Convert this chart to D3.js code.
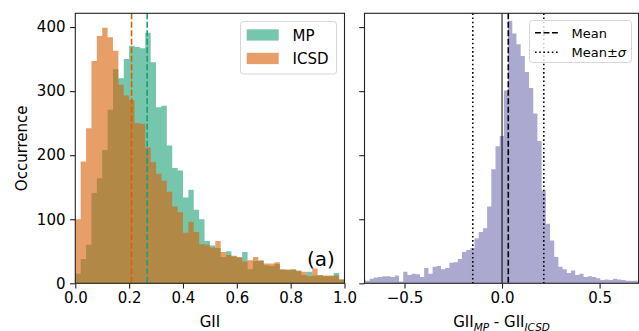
<!DOCTYPE html>
<html>
<head>
<meta charset="utf-8">
<script src="https://cdn.jsdelivr.net/npm/d3@7"></script>
<style>
  html, body { margin: 0; padding: 0; background: #fff; }
  svg { display: block; font-family: "DejaVu Sans", sans-serif; }
</style>
</head>
<body>
<svg id="chart" width="639" height="331"></svg>
<script>
// GII histograms: bin width 0.02 from 0 to 1
const giiBinWidth = 0.02;
const mpCounts = [15, 38, 60, 141, 164, 208, 271, 334, 320, 350,
                  371, 369, 367, 391, 345, 275, 277, 215, 180, 176,
                  134, 146, 115, 100, 66, 59, 55, 41, 50, 42,
                  40, 49, 22, 35, 36, 28, 27, 30, 21, 21,
                  22, 19, 13, 18, 12, 12, 11, 11, 16, 6];
const icsdCounts = [100, 190, 242, 347, 386, 399, 384, 363, 310, 293,
                    286, 250, 249, 212, 189, 171, 160, 143, 120, 111,
                    79, 96, 80, 61, 60, 56, 66, 49, 44, 43,
                    41, 34, 36, 41, 35, 31, 31, 33, 22, 21,
                    21, 20, 18, 11, 23, 13, 12, 12, 12, 6];
const meanMP = 0.267;
const meanICSD = 0.209;

// Difference histogram GII_MP - GII_ICSD
const diffBinStart = -0.7215;
const diffBinWidth = 0.0215;
const diffCounts = [6, 4, 7, 9, 10, 11, 11, 10, 12, 3,
                    18, 13, 15, 14, 10, 24, 15, 26, 27, 22,
                    24, 32, 33, 38, 49, 52, 55, 70, 80, 86,
                    120, 178, 214, 230, 301, 410, 390, 373, 355, 330,
                    305, 265, 222, 145, 93, 67, 41, 26, 22, 16,
                    20, 13, 15, 10, 11, 10, 8, 5, 6, 5,
                    7, 6, 5, 4, 4, 4, 3];
const diffMean = 0.032;
const diffStd = 0.182;

// Axis ticks
const giiTicks = [0, 0.2, 0.4, 0.6, 0.8, 1.0];
const diffTicks = [-0.5, 0, 0.5];
const countTicks = [0, 100, 200, 300, 400];

const colMP = "#1b9e77", colICSD = "#d95f02", colDiff = "#7570b3";
const barAlpha = 0.6;
const font = 15;

const svg = d3.select("#chart");

const plotTop = 13.3, plotBottom = 283.3;
const y = d3.scaleLinear().domain([0, 421.5]).range([plotBottom, plotTop]);
const xL = d3.scaleLinear().domain([0, 1]).range([75.3, 344.5]);
const xR = d3.scaleLinear().domain([-0.705, 0.70]).range([364.5, 638.6]);

svg.append("defs").append("clipPath").attr("id", "clipR")
  .append("rect").attr("x", xR.range()[0]).attr("y", plotTop)
  .attr("width", xR.range()[1] - xR.range()[0]).attr("height", plotBottom - plotTop);

// step-shaped filled histogram built from bin edges and counts
function histPath(x, start, width, counts) {
  const pts = counts.map((c, i) => [start + i * width, c]);
  pts.push([start + counts.length * width, counts[counts.length - 1]]);
  return d3.area()
    .x(d => x(d[0]))
    .y0(y(0))
    .y1(d => y(d[1]))
    .curve(d3.curveStepAfter)(pts);
}

// ---------- left panel ----------
const gL = svg.append("g");
gL.append("path").attr("d", histPath(xL, 0, giiBinWidth, mpCounts))
  .attr("fill", colMP).attr("fill-opacity", barAlpha);
gL.append("path").attr("d", histPath(xL, 0, giiBinWidth, icsdCounts))
  .attr("fill", colICSD).attr("fill-opacity", barAlpha);

[[meanICSD, colICSD], [meanMP, colMP]].forEach(([m, c]) => {
  gL.append("line")
    .attr("x1", xL(m)).attr("x2", xL(m)).attr("y1", plotTop).attr("y2", plotBottom)
    .attr("stroke", c).attr("stroke-width", 1.6).attr("stroke-dasharray", "5.9,2.6");
});

function frame(g, x) {
  const [x0, x1] = x.range();
  g.append("rect").attr("x", x0).attr("y", plotTop)
    .attr("width", x1 - x0).attr("height", plotBottom - plotTop)
    .attr("fill", "none").attr("stroke", "#222").attr("stroke-width", 1.1);
}

function axes(g, x, xticks, xfmt, ylabels) {
  const xa = g.append("g").attr("transform", `translate(0,${plotBottom})`)
    .call(d3.axisBottom(x).tickValues(xticks).tickSize(5.3).tickPadding(3.5).tickFormat(xfmt));
  const ya = g.append("g").attr("transform", `translate(${x.range()[0]},0)`)
    .call(d3.axisLeft(y).tickValues(countTicks).tickSize(5.3).tickPadding(4.5)
      .tickFormat(ylabels ? d3.format("d") : () => ""));
  [xa, ya].forEach(a => {
    a.select(".domain").remove();
    a.selectAll(".tick line").attr("stroke", "#222").attr("stroke-width", 1.1);
    a.selectAll(".tick text").attr("fill", "#000")
      .style("font-family", "DejaVu Sans").style("font-size", font + "px");
  });
}

axes(gL, xL, giiTicks, d3.format(".1f"), true);
frame(gL, xL);

// left legend
const legL = gL.append("g");
legL.append("rect").attr("x", 240.5).attr("y", 21.5).attr("width", 96).attr("height", 52.5)
  .attr("rx", 3).attr("fill", "#fff").attr("fill-opacity", 0.8)
  .attr("stroke", "#d6d6d6").attr("stroke-width", 1);
[["MP", colMP, 29.3], ["ICSD", colICSD, 52.8]].forEach(([t, c, yy]) => {
  legL.append("rect").attr("x", 246.7).attr("y", yy).attr("width", 32).attr("height", 11.3)
    .attr("fill", c).attr("fill-opacity", barAlpha);
  legL.append("text").attr("x", 292.5).attr("y", yy + 11.5)
    .attr("font-size", font).attr("fill", "#000").text(t);
});

gL.append("text").attr("x", 307).attr("y", 266)
  .attr("font-size", 20).attr("fill", "#000").text("(a)");

gL.append("text").attr("transform", `translate(27,${(plotTop + plotBottom) / 2}) rotate(-90)`)
  .attr("text-anchor", "middle").attr("font-size", font).attr("fill", "#000").text("Occurrence");
gL.append("text").attr("x", (xL.range()[0] + xL.range()[1]) / 2).attr("y", 327)
  .attr("text-anchor", "middle").attr("font-size", font).attr("fill", "#000").text("GII");

// ---------- right panel ----------
const gR = svg.append("g");
gR.append("g").attr("clip-path", "url(#clipR)")
  .append("path").attr("d", histPath(xR, diffBinStart, diffBinWidth, diffCounts))
  .attr("fill", colDiff).attr("fill-opacity", barAlpha);

gR.append("line").attr("x1", xR(0)).attr("x2", xR(0)).attr("y1", plotTop).attr("y2", plotBottom)
  .attr("stroke", "#000").attr("stroke-width", 1);
gR.append("line").attr("x1", xR(diffMean)).attr("x2", xR(diffMean)).attr("y1", plotTop).attr("y2", plotBottom)
  .attr("stroke", "#000").attr("stroke-width", 1.6).attr("stroke-dasharray", "5.9,2.6");
[diffMean - diffStd, diffMean + diffStd].forEach(v => {
  gR.append("line").attr("x1", xR(v)).attr("x2", xR(v)).attr("y1", plotTop).attr("y2", plotBottom)
    .attr("stroke", "#000").attr("stroke-width", 1.6).attr("stroke-dasharray", "1.6,2.6");
});

axes(gR, xR, diffTicks, v => (v < 0 ? "\u2212" : "") + d3.format(".1f")(Math.abs(v)), false);
frame(gR, xR);

// right legend
const legR = gR.append("g");
legR.append("rect").attr("x", 529.5).attr("y", 20.5).attr("width", 102).attr("height", 42)
  .attr("rx", 3).attr("fill", "#fff").attr("fill-opacity", 0.8)
  .attr("stroke", "#d6d6d6").attr("stroke-width", 1);
legR.append("line").attr("x1", 535).attr("x2", 559.5).attr("y1", 32.7).attr("y2", 32.7)
  .attr("stroke", "#000").attr("stroke-width", 1.6).attr("stroke-dasharray", "5.9,2.6");
legR.append("line").attr("x1", 535).attr("x2", 559.5).attr("y1", 52.3).attr("y2", 52.3)
  .attr("stroke", "#000").attr("stroke-width", 1.6).attr("stroke-dasharray", "1.6,2.6");
legR.append("text").attr("x", 571.5).attr("y", 37.5).attr("font-size", 13).attr("fill", "#000").text("Mean");
const ms = legR.append("text").attr("x", 571.5).attr("y", 57).attr("font-size", 13).attr("fill", "#000");
ms.append("tspan").text("Mean\u00b1");
ms.append("tspan").attr("font-style", "italic").text("\u03c3");

// x label with subscripts
const xl = gR.append("text").attr("x", (xR.range()[0] + xR.range()[1]) / 2).attr("y", 327)
  .attr("text-anchor", "middle").attr("font-size", font).attr("fill", "#000");
xl.append("tspan").text("GII");
xl.append("tspan").attr("font-size", 10.5).attr("font-style", "italic").attr("dy", 3.5).text("MP");
xl.append("tspan").attr("dy", -3.5).text(" - GII");
xl.append("tspan").attr("font-size", 10.5).attr("font-style", "italic").attr("dy", 3.5).text("ICSD");
</script>
</body>
</html>
